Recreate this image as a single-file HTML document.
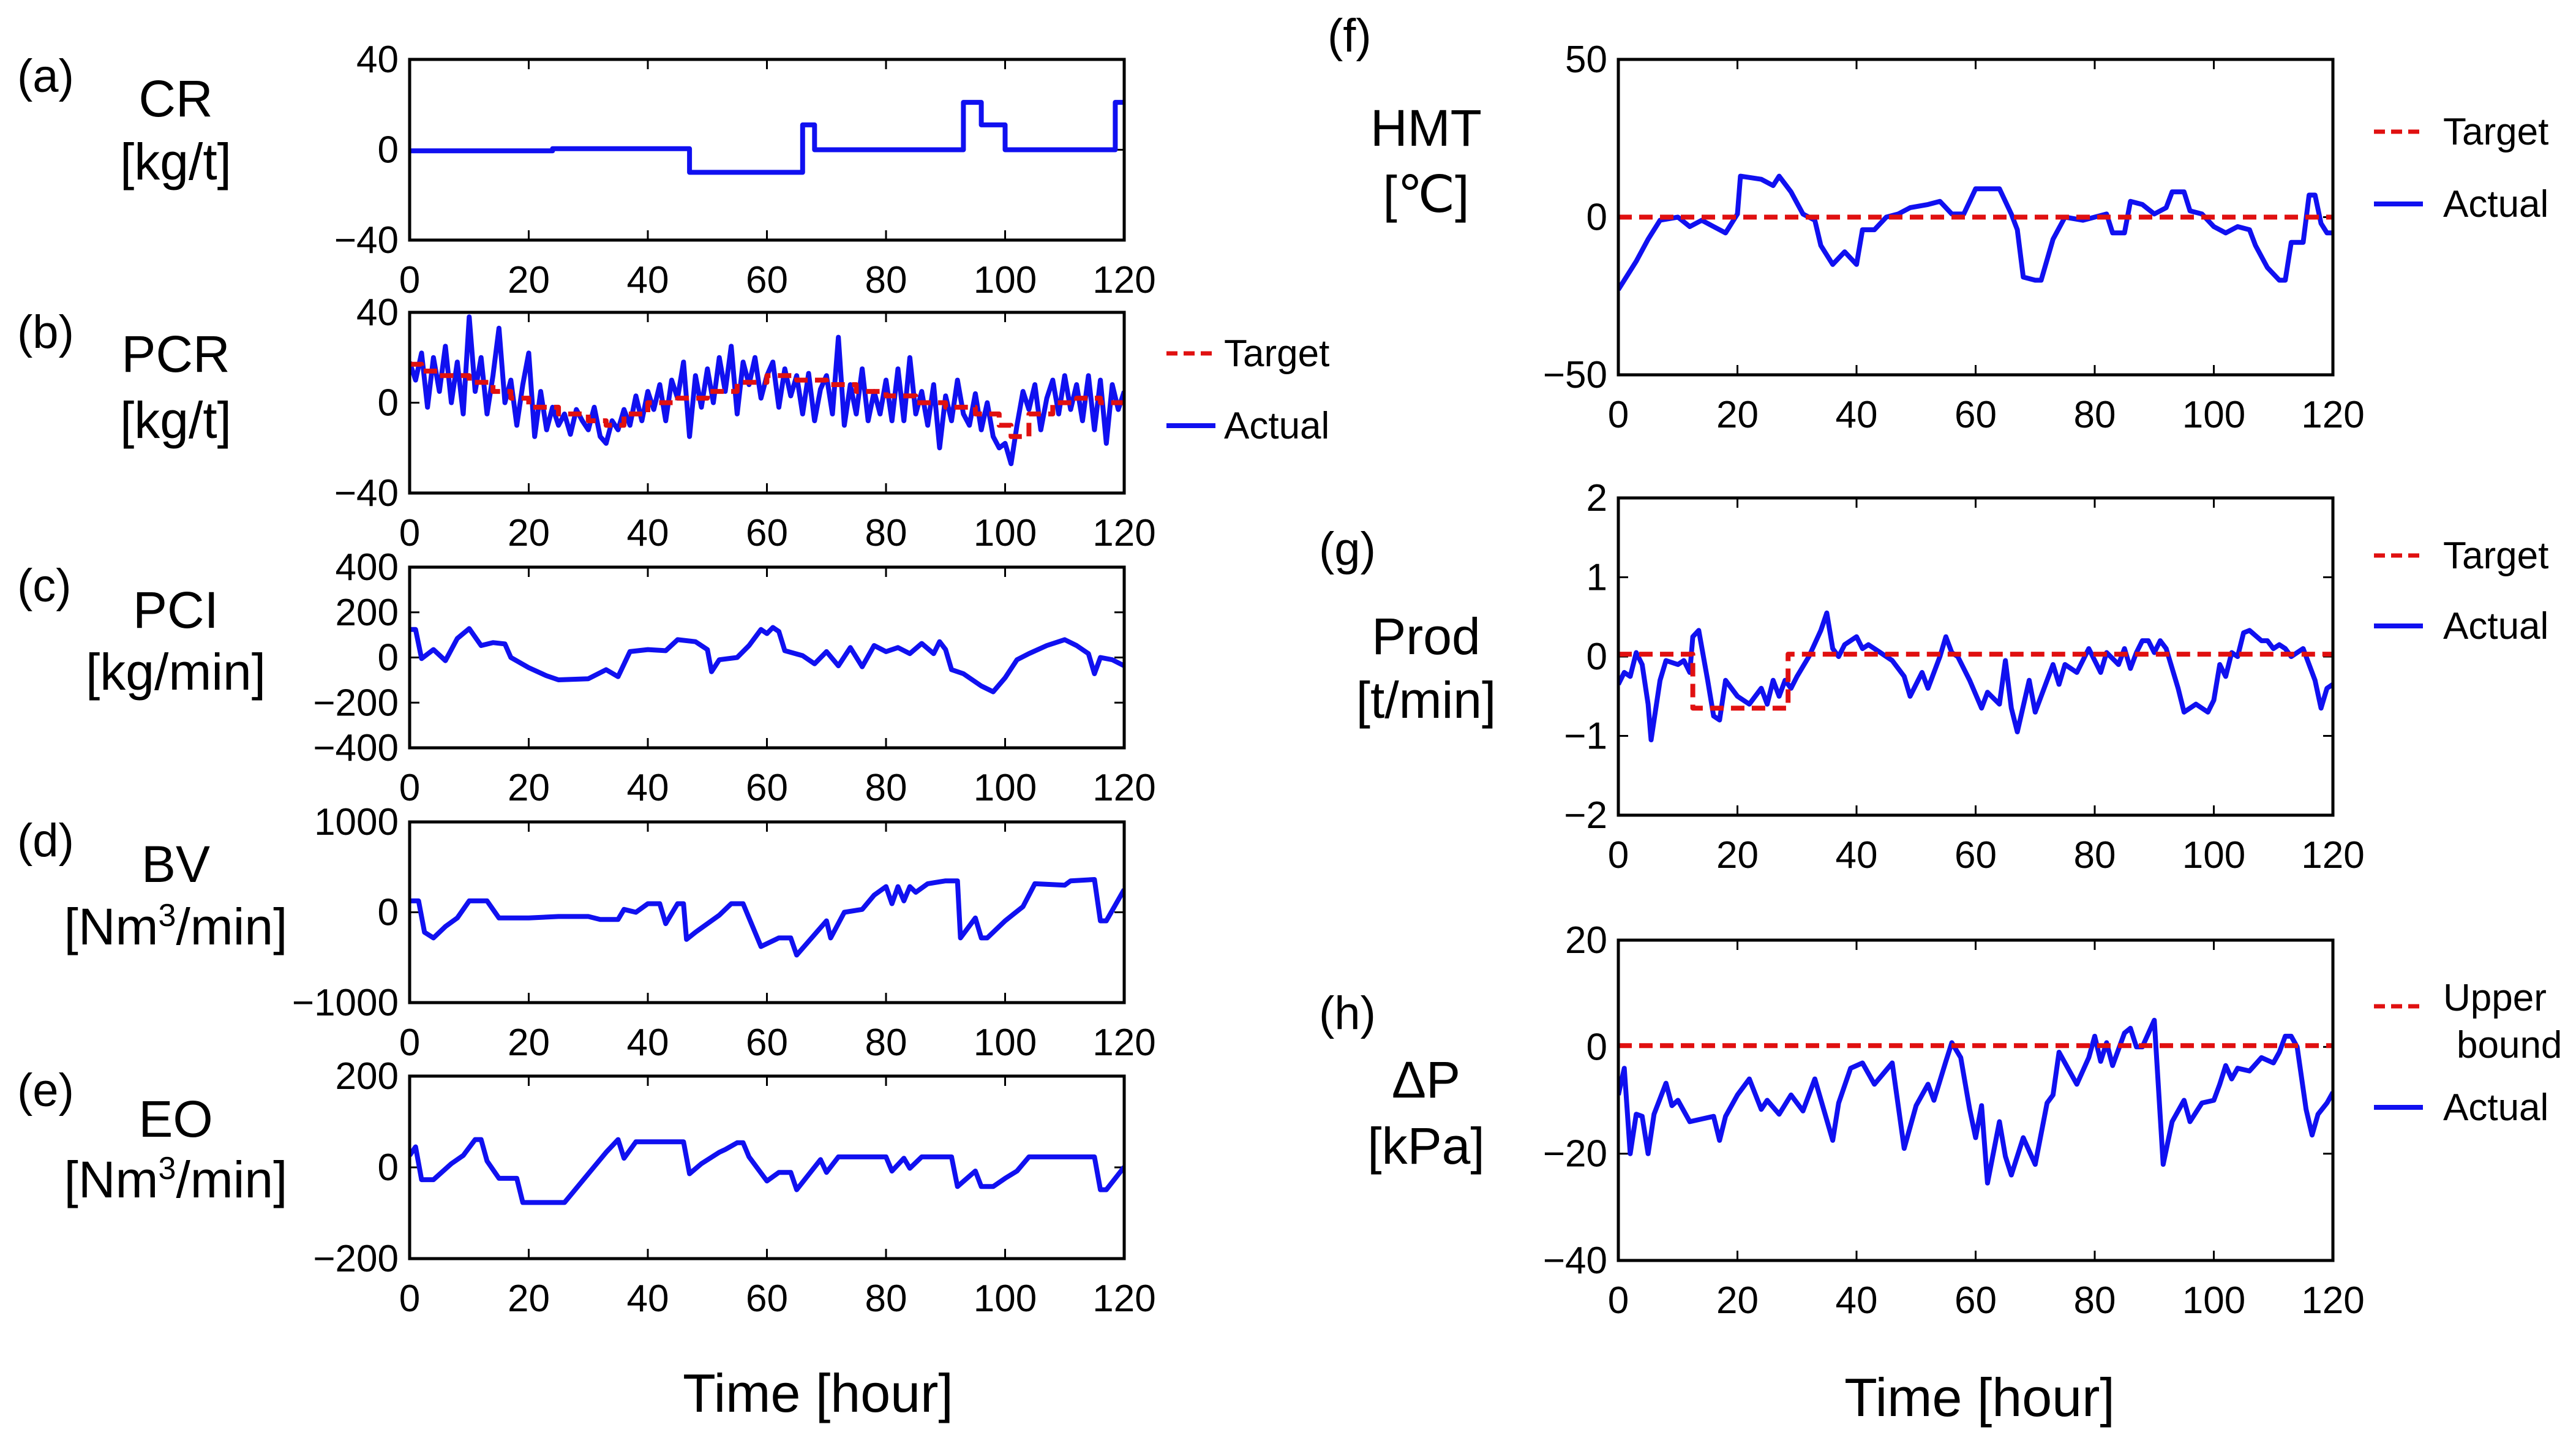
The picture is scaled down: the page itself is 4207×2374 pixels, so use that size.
<!DOCTYPE html>
<html><head><meta charset="utf-8">
<style>
html,body{margin:0;padding:0;background:#fff;}
svg{display:block;}
text{font-family:"Liberation Sans Narrow","Liberation Sans",sans-serif;fill:#000;}
</style></head>
<body>
<svg id="fig" width="4207" height="2374" viewBox="0 0 4207 2374" xmlns="http://www.w3.org/2000/svg">
<rect width="4207" height="2374" fill="#fff"/>
</svg>
<script>
// ---- data (time in hours, values in panel units) ----
const crT = [0,24,24,47,47,66,66,68,68,93,93,96,96,100,100,118.5,118.5,120];
const crV = [-0.5,-0.5,0.5,0.5,-10,-10,11,11,0,0,21,21,11,11,0,0,21,21];

const pcrActual = [18,10,22,-2,20,5,25,0,18,-5,38,5,20,-5,12,33,0,10,-10,8,22,-15,5,-12,-2,-10,-5,-14,-3,-8,-12,-2,-15,-18,-8,-12,-3,-10,3,-8,5,-3,8,-8,10,2,18,-15,12,-2,15,0,20,5,25,-5,18,8,20,2,12,18,-2,15,3,12,-5,13,-8,6,12,-5,29,-10,8,-5,15,-8,5,-5,10,-8,15,-8,20,-5,5,-10,8,-20,3,-8,10,-5,-10,4,-12,0,-15,-20,-18,-27,-10,5,-3,8,-12,2,10,-5,12,-3,8,-8,12,-12,10,-18,8,-3,5];
const pcrTargetT = [0,2,2,5,5,10,10,14,14,17,17,20,20,25,25,30,30,33,33,36,36,40,40,45,45,50,50,55,55,60,60,65,65,70,70,75,75,80,80,85,85,90,90,95,95,99,99,101,101,104,104,108,108,112,112,116,116,120];
const pcrTargetV = [17,17,14,14,12,12,9,9,5,5,2,2,-2,-2,-5,-5,-8,-8,-10,-10,-5,-5,0,0,2,2,5,5,9,9,12,12,10,10,8,8,5,5,3,3,0,0,-2,-2,-5,-5,-10,-10,-15,-15,-5,-5,0,0,2,2,0,0];

const pciT = [0,1,2,4,6,8,10,12,14,16,17,20,23,25,30,33,35,37,40,43,45,48,50,50.7,52,55,57,59,60,61,62,63,66,68,70,72,74,76,78,80,82,84,86,88,89,90,91,93,96,98,100,102,104,107,110,112,114,115,116,118,120];
const pciV = [124,124,-5,35,-14,84,128,53,66,60,0,-45,-81,-99,-94,-54,-85,26,35,30,79,70,35,-63,-10,0,53,124,106,133,115,30,8,-28,26,-37,44,-41,53,26,44,17,62,17,70,35,-54,-72,-126,-152,-90,-10,17,53,79,53,17,-72,0,-10,-37];

const bvT = [0,1.5,2.5,4,6,8,10,13,15,20,25,30,32,35,36,38,40,42,43,45,46,46.5,48,52,54,56,57,59,62,64,65,70,70.7,73,76,78,80,81,82,83,84,85,87,90,92,92.5,95,96,97,100,103,105,110,111,115,116,117,120];
const bvV = [126,126,-221,-284,-158,-63,126,126,-63,-63,-47,-47,-79,-79,32,0,95,95,-126,95,95,-300,-221,-32,95,95,-63,-379,-284,-284,-474,-95,-284,0,32,190,284,95,284,126,284,221,316,348,348,-284,-63,-284,-284,-95,63,316,300,348,363,-95,-95,253];

const eoT = [0,1,2,4,7,9,11,12,13,15,18,19,26,29,33,35,36,38,46,47,49,52,53,55,56,57,60,62,64,65,69,70,72,80,81,83,84,86,91,92,95,96,98,100,102,104,115,116,117,120];
const eoV = [26,45,-27,-27,8,26,61,61,14,-24,-24,-77,-77,-30,33,61,20,56,56,-14,8,33,39,54,54,23,-30,-11,-11,-49,17,-11,23,23,-8,20,-2,23,23,-42,-8,-42,-42,-24,-8,23,23,-49,-49,1];

const hmtT = [0,1,3,5,7,10,12,14,16,18,20,20.5,24,26,27,29,31,33,34,36,38,40,41,43,45,47,49,52,54,56,58,60,62,64,66,67,68,70,71,73,75,78,80,82,83,85,86,88,90,92,93,95,96,98,100,102,104,106,107,109,111,112,113,115,116,117,118,119,120];
const hmtV = [-23,-20,-14,-7,-1,0,-3,-1,-3,-5,1,13,12,10,13,8,1,-1,-9,-15,-11,-15,-4,-4,0,1,3,4,5,1,1,9,9,9,1,-4,-19,-20,-20,-7,0,-1,0,1,-5,-5,5,4,1,3,8,8,2,1,-3,-5,-3,-4,-9,-16,-20,-20,-8,-8,7,7,-2,-5,-5];
const hmtTarget = 0;

const prodT = [0,1,2,3,4,5,5.5,7,8,10,11,12,12.5,13.5,15,16,17,18,20,22,24,25,26,27,28,29,30,32,34,35,36,37,38,40,41,42,44,46,48,49,51,52,54,55,56,57,59,61,62,64,65,66,67,69,70,72,73,74,75,77,79,81,82,84,85,86,87,88,89,90,91,92,94,95,97,99,100,101,102,103,104,105,106,108,109,110,111,112,113,115,117,118,119,120];
const prodV = [-0.35,-0.2,-0.25,0.05,-0.1,-0.6,-1.05,-0.3,-0.05,-0.1,-0.05,-0.2,0.25,0.33,-0.3,-0.75,-0.8,-0.3,-0.5,-0.6,-0.4,-0.6,-0.3,-0.5,-0.3,-0.4,-0.25,0,0.33,0.55,0.1,0,0.15,0.25,0.1,0.15,0.05,-0.05,-0.25,-0.5,-0.2,-0.4,0,0.25,0.05,0,-0.3,-0.65,-0.45,-0.6,-0.05,-0.65,-0.95,-0.3,-0.7,-0.3,-0.1,-0.35,-0.1,-0.2,0.1,-0.2,0.05,-0.1,0.1,-0.15,0.05,0.2,0.2,0.05,0.2,0.1,-0.4,-0.7,-0.6,-0.7,-0.55,-0.1,-0.25,0.05,0,0.3,0.33,0.2,0.2,0.1,0.15,0.1,0,0.1,-0.3,-0.65,-0.4,-0.35];
const prodTargetT = [0,12.5,12.5,28.5,28.5,120];
const prodTargetV = [0.03,0.03,-0.65,-0.65,0.03,0.03];

const dpT = [0,1,2,3,4,5,6,8,9,10,12,14,16,17,18,20,22,24,25,27,29,31,33,36,37,39,41,43,46,48,50,52,53,55,56,57.5,59,60,61,62,64,65,66,68,70,72,73,74,76,77,79,80,81,82,83,85,86,87,88,90,91.5,93,95,96,98,100,101,102,103,104,106,108,110,111,112,113,114,115.5,116.5,117.5,119,120];
const dpV = [-9,-4,-20,-12.6,-13,-20,-12.6,-6.8,-11,-10,-14,-13.5,-13,-17.5,-13,-9,-6,-11.7,-10,-12.6,-9,-12,-6,-17.5,-10.5,-4,-3,-7,-3,-19,-11,-7,-10,-2.7,0.8,-2,-11.7,-17,-11,-25.5,-14,-20.5,-24,-17,-22,-10.5,-9,-1,-5,-7,-2,2,-2.7,0.8,-3.5,2.6,3.5,0,0,5,-22,-14,-10,-14,-10.5,-10,-7,-3.5,-6,-4,-4.5,-2,-3,-1,2,2,0,-11.7,-16.5,-12.6,-10.5,-8.5];
const dpBound = 0.25;

const xTicks = [0,20,40,60,80,100,120];
const crTicks = [40,0,-40];
const pcrTicks = [40,0,-40];
const pciTicks = [400,200,0,-200,-400];
const bvTicks = [1000,0,-1000];
const eoTicks = [200,0,-200];
const hmtTicks = [50,0,-50];
const prodTicks = [2,1,0,-1,-2];
const dpTicks = [20,0,-20,-40];

// ---- drawing ----
const NS = "http://www.w3.org/2000/svg";
const svg = document.getElementById('fig');
function mk(tag, attrs, parent){
  const e = document.createElementNS(NS, tag);
  for (const k in attrs) e.setAttribute(k, attrs[k]);
  (parent||svg).appendChild(e);
  return e;
}
function fmt(v){ return v<0 ? '\u2212'+Math.abs(v) : String(v); }

function panel(name, box, ymin, ymax, yticks){
  const g = mk('g', {});
  
  
  const sx = t => box.l + (t/120)*(box.r-box.l);
  const sy = v => box.b - (v-ymin)/(ymax-ymin)*(box.b-box.t);
  const grid = mk('g', {}, g);
  
  
  xTicks.forEach(t=>{
    const x = sx(t);
    mk('line',{x1:x,x2:x,y1:box.b,y2:box.b-16,stroke:'#000','stroke-width':3},grid);
    mk('line',{x1:x,x2:x,y1:box.t,y2:box.t+16,stroke:'#000','stroke-width':3},grid);
    const tx = mk('text',{x:x,y:box.b+86,'font-size':62,'text-anchor':'middle'},grid);
    tx.textContent = t;
    
    
  });
  yticks.forEach(v=>{
    const y = sy(v);
    mk('line',{x1:box.l,x2:box.l+16,y1:y,y2:y,stroke:'#000','stroke-width':3},grid);
    mk('line',{x1:box.r,x2:box.r-16,y1:y,y2:y,stroke:'#000','stroke-width':3},grid);
    const tx = mk('text',{x:box.l-18,y:y+21,'font-size':62,'text-anchor':'end'},grid);
    tx.textContent = fmt(v);
    
    
  });
  const clip = 'clip-'+name;
  const cp = mk('clipPath',{id:clip},g);
  mk('rect',{x:box.l,y:box.t,width:box.r-box.l,height:box.b-box.t},cp);
  const plot = mk('g',{'clip-path':'url(#'+clip+')'},g);
  return {g, plot, sx, sy, box};
}
function series(p, ts, vs, color, dashed, nm){
  const d = ts.map((t,i)=>(i?'L':'M')+p.sx(t).toFixed(1)+' '+p.sy(vs[i]).toFixed(1)).join(' ');
  const e = mk('path',{d:d,fill:'none',stroke:color,'stroke-width':8,'stroke-linejoin':'round','stroke-dasharray':dashed?'22 12':'none'},p.plot);
  
  
}
function frame(p){
  const r = mk('rect',{x:p.box.l,y:p.box.t,width:p.box.r-p.box.l,height:p.box.b-p.box.t,fill:'none',stroke:'#000','stroke-width':5},p.g);
  
  
}
const seq = n => Array.from({length:n},(_,i)=>i);
const BLUE = '#1010f0', RED = '#e01010';

const L = {l:669, r:1836}, R = {l:2643, r:3810};
let p = panel('panel-a-cr', {l:L.l,r:L.r,t:97,b:392}, -40, 40, crTicks);
series(p, crT, crV, BLUE, false, 'cr-actual-line'); frame(p);
p = panel('panel-b-pcr', {l:L.l,r:L.r,t:510,b:805}, -40, 40, pcrTicks);
series(p, seq(pcrActual.length), pcrActual, BLUE, false, 'pcr-actual-line');
series(p, pcrTargetT, pcrTargetV, RED, true, 'pcr-target-line'); frame(p);
p = panel('panel-c-pci', {l:L.l,r:L.r,t:926,b:1221}, -400, 400, pciTicks);
series(p, pciT, pciV, BLUE, false, 'pci-actual-line'); frame(p);
p = panel('panel-d-bv', {l:L.l,r:L.r,t:1342,b:1637}, -1000, 1000, bvTicks);
series(p, bvT, bvV, BLUE, false, 'bv-actual-line'); frame(p);
p = panel('panel-e-eo', {l:L.l,r:L.r,t:1757,b:2055}, -200, 200, eoTicks);
series(p, eoT, eoV, BLUE, false, 'eo-actual-line'); frame(p);
p = panel('panel-f-hmt', {l:R.l,r:R.r,t:97,b:612}, -50, 50, hmtTicks);
series(p, hmtT, hmtV, BLUE, false, 'hmt-actual-line');
series(p, [0,120], [hmtTarget,hmtTarget], RED, true, 'hmt-target-line'); frame(p);
p = panel('panel-g-prod', {l:R.l,r:R.r,t:813,b:1331}, -2, 2, prodTicks);
series(p, prodT, prodV, BLUE, false, 'prod-actual-line');
series(p, prodTargetT, prodTargetV, RED, true, 'prod-target-line'); frame(p);
p = panel('panel-h-dp', {l:R.l,r:R.r,t:1535,b:2058}, -40, 20, dpTicks);
series(p, dpT, dpV, BLUE, false, 'dp-actual-line');
series(p, [0,120], [dpBound,dpBound], RED, true, 'dp-upper-bound-line'); frame(p);
</script>

<svg style="position:absolute;left:0;top:0" width="4207" height="2374">
<g font-family="Liberation Sans, sans-serif" fill="#000">
  <text x="28" y="150" font-size="76">(a)</text>
  <text x="287" y="190" font-size="84" text-anchor="middle">CR</text>
  <text x="287" y="293" font-size="84" text-anchor="middle">[kg/t]</text>

  <text x="28" y="568" font-size="76">(b)</text>
  <text x="287" y="607" font-size="84" text-anchor="middle">PCR</text>
  <text x="287" y="715" font-size="84" text-anchor="middle">[kg/t]</text>

  <text x="28" y="982" font-size="76">(c)</text>
  <text x="287" y="1025" font-size="84" text-anchor="middle">PCI</text>
  <text x="287" y="1126" font-size="84" text-anchor="middle">[kg/min]</text>

  <text x="28" y="1398" font-size="76">(d)</text>
  <text x="287" y="1440" font-size="84" text-anchor="middle">BV</text>
  <text x="287" y="1542" font-size="84" text-anchor="middle">[Nm<tspan font-size="52" dy="-30">3</tspan><tspan dy="30">/min]</tspan></text>

  <text x="28" y="1806" font-size="76">(e)</text>
  <text x="287" y="1856" font-size="84" text-anchor="middle">EO</text>
  <text x="287" y="1955" font-size="84" text-anchor="middle">[Nm<tspan font-size="52" dy="-30">3</tspan><tspan dy="30">/min]</tspan></text>

  <text x="1336" y="2305" font-size="88" text-anchor="middle">Time [hour]</text>
  <text x="3233" y="2312" font-size="88" text-anchor="middle">Time [hour]</text>

  <text x="2168" y="84" font-size="76">(f)</text>
  <text x="2329" y="238" font-size="84" text-anchor="middle">HMT</text>
  <text x="2329" y="346" font-size="84" text-anchor="middle">[℃]</text>

  <text x="2154" y="922" font-size="76">(g)</text>
  <text x="2329" y="1068" font-size="84" text-anchor="middle">Prod</text>
  <text x="2329" y="1172" font-size="84" text-anchor="middle">[t/min]</text>

  <text x="2154" y="1680" font-size="76">(h)</text>
  <text x="2329" y="1792" font-size="84" text-anchor="middle">ΔP</text>
  <text x="2329" y="1900" font-size="84" text-anchor="middle">[kPa]</text>
</g>
<g font-family="Liberation Sans, sans-serif" font-size="62" fill="#000">
  <g>
    <line x1="1905" x2="1985" y1="577" y2="577" stroke="#e01010" stroke-width="7" stroke-dasharray="18 10"/>
    <text x="1999" y="598">Target</text>
    <line x1="1905" x2="1985" y1="695" y2="695" stroke="#1010f0" stroke-width="8"/>
    <text x="1999" y="716">Actual</text>
  </g>
  <g>
    <line x1="3877" x2="3957" y1="215" y2="215" stroke="#e01010" stroke-width="7" stroke-dasharray="18 10"/>
    <text x="3990" y="236">Target</text>
    <line x1="3877" x2="3957" y1="333" y2="333" stroke="#1010f0" stroke-width="8"/>
    <text x="3990" y="354">Actual</text>
  </g>
  <g>
    <line x1="3877" x2="3957" y1="907" y2="907" stroke="#e01010" stroke-width="7" stroke-dasharray="18 10"/>
    <text x="3990" y="928">Target</text>
    <line x1="3877" x2="3957" y1="1022" y2="1022" stroke="#1010f0" stroke-width="8"/>
    <text x="3990" y="1043">Actual</text>
  </g>
  <g>
    <line x1="3877" x2="3957" y1="1643" y2="1643" stroke="#e01010" stroke-width="7" stroke-dasharray="18 10"/>
    <text x="3990" y="1650">Upper</text>
    <text x="4012" y="1727">bound</text>
    <line x1="3877" x2="3957" y1="1808" y2="1808" stroke="#1010f0" stroke-width="8"/>
    <text x="3990" y="1829">Actual</text>
  </g>
</g>
</svg>
</body></html>
